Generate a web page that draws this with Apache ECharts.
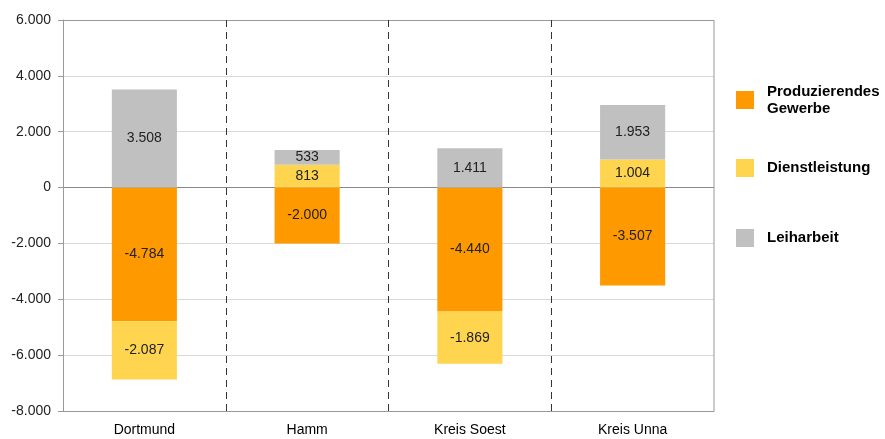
<!DOCTYPE html>
<html>
<head>
<meta charset="utf-8">
<script src="https://cdn.jsdelivr.net/npm/echarts@6/dist/echarts.min.js"></script>
<style>
  html, body { margin: 0; padding: 0; background: #fff; }
  #chart { width: 885px; height: 439px; }
</style>
</head>
<body>
<div id="chart"></div>
<script>
// Kategorien und Werte
var categories = ['Dortmund', 'Hamm', 'Kreis Soest', 'Kreis Unna'];
var produzierend = [-4784, -2000, -4440, -3507];
var dienstleistung = [-2087, 813, -1869, 1004];
var leiharbeit = [3508, 533, 1411, 1953];

var seriesNames = ['Produzierendes Gewerbe', 'Dienstleistung', 'Leiharbeit'];
var seriesColors = ['#ff9900', '#ffd54f', '#c0c0c0'];

// Tausenderpunkt
function fmt(v) {
	var s = String(Math.abs(v)).replace(/\B(?=(\d{3})+(?!\d))/g, '.');
	return (v < 0 ? '-' : '') + s;
}

function makeSeries(name, data, color) {
	return {
		name: name,
		type: 'bar',
		stack: 'total',
		data: data,
		barWidth: '40%',
		itemStyle: { color: color },
		label: {
			show: true,
			position: 'inside',
			color: '#222',
			fontSize: 14,
			fontFamily: 'Liberation Sans',
			formatter: function (p) { return fmt(p.value); }
		}
	};
}

function makeLegend(name, top, left) {
	return {
		data: [name],
		orient: 'vertical',
		left: left,
		top: top,
		padding: 0,
		itemWidth: 18,
		itemHeight: 18,
		itemGap: 0,
		icon: 'rect',
		textStyle: {
			fontSize: 15,
			fontWeight: 'bold',
			color: '#000',
			fontFamily: 'Liberation Sans',
			lineHeight: 17,
			padding: [0, 0, 0, 8]
		},
		formatter: function (n) {
			return n === 'Produzierendes Gewerbe' ? 'Produzierendes\nGewerbe' : n;
		}
	};
}

var chart = echarts.init(document.getElementById('chart'));

chart.setOption({
	animation: false,
	textStyle: { fontFamily: 'Liberation Sans' },
	grid: { left: 63, right: 171, top: 20, bottom: 28, containLabel: false },
	legend: [
		makeLegend(seriesNames[0], 83, 736),
		makeLegend(seriesNames[1], 159, 736),
		makeLegend(seriesNames[2], 229, 736)
	],
	xAxis: {
		type: 'category',
		data: categories,
		axisLine: { onZero: false, lineStyle: { color: '#999' } },
		axisTick: { show: false },
		axisLabel: { color: '#000', fontSize: 14, margin: 12 },
		splitLine: {
			show: true,
			showMinLine: false,
			showMaxLine: false,
			lineStyle: { color: '#333', type: [7, 5], width: 1 }
		}
	},
	yAxis: {
		type: 'value',
		min: -8000,
		max: 6000,
		interval: 2000,
		axisLine: { show: true, lineStyle: { color: '#999' } },
		axisTick: { show: true, length: 5, lineStyle: { color: '#999' } },
		axisLabel: {
			color: '#222',
			fontSize: 14,
			margin: 12,
			formatter: fmt
		},
		splitLine: {
			lineStyle: {
				color: ['#999', '#d9d9d9', '#d9d9d9', '#d9d9d9', '#888', '#d9d9d9', '#d9d9d9', '#999']
			}
		}
	},
	series: [
		makeSeries(seriesNames[0], produzierend, seriesColors[0]),
		makeSeries(seriesNames[1], dienstleistung, seriesColors[1]),
		makeSeries(seriesNames[2], leiharbeit, seriesColors[2])
	],
	graphic: [{
		type: 'rect',
		shape: { x: 713.5, y: 20, width: 1, height: 391 },
		style: { fill: '#999' },
		z: 10
	}]
});
</script>
</body>
</html>
